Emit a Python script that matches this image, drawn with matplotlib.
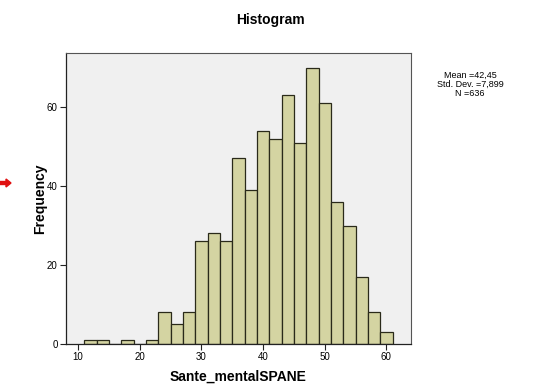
import matplotlib
matplotlib.use("Agg")
import matplotlib.pyplot as plt
from matplotlib.patches import FancyArrow

plt.rcParams['font.family'] = ['Liberation Sans', 'DejaVu Sans']

bin_edges = [11, 13, 15, 17, 19, 21, 23, 25, 27, 29, 31, 33, 35, 37, 39, 41,
             43, 45, 47, 49, 51, 53, 55, 57, 59, 61]
counts = [1, 1, 0, 1, 0, 1, 8, 5, 8, 26, 28, 26, 47, 39, 54, 52,
          63, 51, 70, 61, 36, 30, 17, 8, 3]
x_ticks = [10, 20, 30, 40, 50, 60]
y_ticks = [0, 20, 40, 60]
stats_lines = ["Mean =42,45", "Std. Dev. =7,899", "N =636"]

W, H = 540, 392
fig = plt.figure(figsize=(W / 100, H / 100), dpi=100)
fig.patch.set_facecolor('white')
ax = fig.add_axes([66 / W, 1 - 344 / H, (411 - 66) / W, (344 - 53) / H])
ax.set_facecolor('#f0f0f0')

lefts = bin_edges[:-1]
widths = [b - a for a, b in zip(bin_edges[:-1], bin_edges[1:])]
ax.bar(lefts, counts, width=widths, align='edge', color='#d4d4a2',
       edgecolor='#2a2a1a', linewidth=0.9)

ax.set_xlim(8.05, 64.0)
ax.set_ylim(0, 73.7)
ax.set_xticks(x_ticks)
ax.set_yticks(y_ticks)
ax.tick_params(axis='both', labelsize=7, length=4, width=0.8, color='#222222',
               pad=2, direction='out')
for s in ['top', 'right']:
    ax.spines[s].set_color('#555555')
    ax.spines[s].set_linewidth(0.8)
for s in ['left', 'bottom']:
    ax.spines[s].set_color('#222222')
    ax.spines[s].set_linewidth(0.9)

ax.set_xlabel('Sante_mentalSPANE', fontsize=10, fontweight='bold', labelpad=5)
ax.set_ylabel('Frequency', fontsize=10, fontweight='bold', labelpad=0)

fig.text(270 / W, 1 - 20 / H, 'Histogram', ha='center', va='center',
         fontsize=10, fontweight='bold')
for i, line in enumerate(stats_lines):
    fig.text(470 / W, 1 - (75 + i * 9.5) / H, line, ha='center', va='center',
             fontsize=6.5)

# red arrow at far left
fig.patches.append(FancyArrow(0 / W, 1 - 183 / H, 6 / W, 0, width=3 / H,
                              head_width=8 / H, head_length=5 / W,
                              length_includes_head=False,
                              transform=fig.transFigure, color='#e01010',
                              figure=fig))

fig.savefig('out.png', dpi=100)
